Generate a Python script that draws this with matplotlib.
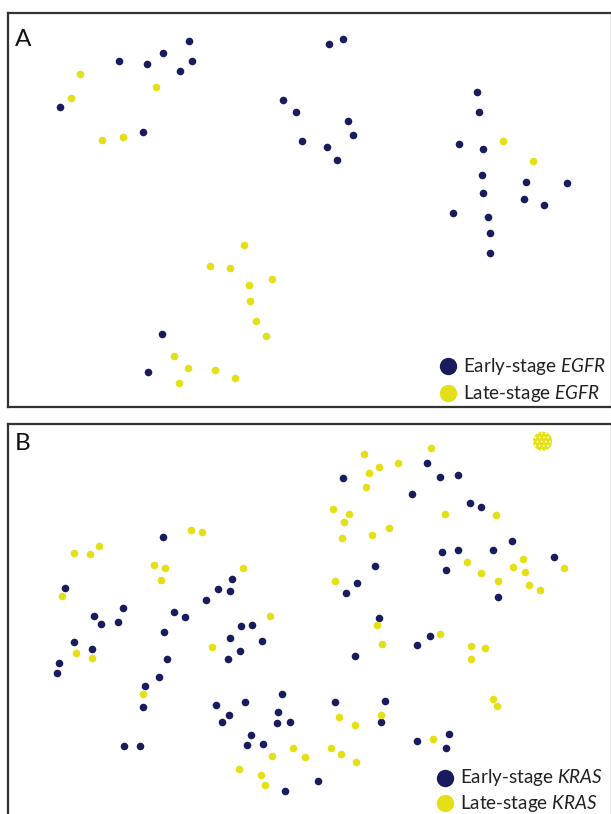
import matplotlib
matplotlib.use("Agg")
import matplotlib.pyplot as plt

# ---- Panel A data (t-SNE-like embedding, picture coordinates) ----
egfr_early_x = [189.0, 118.9, 146.5, 163.3, 180.4, 191.7, 59.6, 142.6, 328.5, 343.3,
                282.5, 296.2, 347.6, 352.7, 302.0, 327.4, 337.1, 477.0, 478.6, 458.7,
                482.5, 482.1, 482.5, 526.1, 567.0, 523.8, 544.0, 452.8, 487.9, 489.9,
                489.9, 161.7, 147.7]
egfr_early_y = [40.7, 61.0, 64.3, 53.3, 71.3, 61.0, 107.0, 132.0, 44.3, 39.3,
                99.7, 112.3, 120.7, 135.0, 141.0, 146.7, 159.7, 92.3, 111.7, 144.3,
                148.7, 174.7, 193.3, 182.0, 183.3, 199.3, 205.0, 213.3, 217.0, 232.7,
                252.7, 334.3, 372.0]
egfr_late_x = [79.5, 70.9, 155.5, 102.1, 123.1, 503.1, 533.1, 243.6, 209.7, 230.3,
               271.6, 249.0, 249.8, 256.4, 266.2, 173.8, 187.8, 214.7, 235.4, 178.5]
egfr_late_y = [74.3, 97.7, 87.3, 140.0, 137.0, 140.7, 160.7, 245.0, 265.7, 268.0,
               279.0, 285.0, 300.7, 320.7, 335.7, 356.0, 368.0, 370.3, 377.7, 382.7]

# ---- Panel B data ----
kras_early_x = [342.6, 426.7, 440.0, 458.3, 412.3, 469.6, 480.9, 163.3, 441.9, 457.5,
                492.6, 511.7, 553.8, 445.8, 374.5, 357.0, 345.7, 498.1, 64.7, 232.3,
                218.2, 229.9, 206.2, 122.8, 93.9, 101.3, 117.7, 173.8, 184.7, 164.1,
                240.5, 252.1, 229.9, 261.5, 240.1, 228.0, 379.2, 429.5, 416.6, 354.6,
                73.7, 91.6, 59.2, 56.9, 166.8, 159.0, 145.0, 143.0, 282.2, 215.9,
                244.7, 277.9, 228.8, 221.7, 276.7, 289.6, 334.8, 384.6, 380.7, 251.0,
                247.1, 263.4, 124.3, 139.5, 449.3, 417.0, 445.8, 318.4, 285.3]
kras_early_y = [477.7, 463.0, 477.3, 474.7, 494.3, 503.3, 506.7, 537.0, 551.7, 550.0,
                550.0, 540.7, 557.3, 570.3, 565.7, 582.7, 592.7, 597.0, 588.3, 579.0,
                589.3, 591.3, 599.7, 608.0, 616.3, 624.0, 622.3, 611.7, 616.7, 632.0,
                626.0, 625.0, 638.0, 641.0, 651.0, 659.0, 618.3, 636.0, 645.0, 655.7,
                642.3, 648.7, 663.0, 672.7, 659.0, 676.7, 686.3, 707.0, 694.3, 705.0,
                702.3, 711.7, 714.7, 722.0, 723.0, 722.0, 702.0, 700.7, 721.7, 735.3,
                745.3, 744.0, 746.0, 746.3, 734.0, 741.3, 747.7, 781.0, 791.0]
kras_late_x = [364.0, 431.0, 378.8, 397.9, 369.4, 365.5, 332.8, 349.2, 343.7, 444.7,
               496.1, 388.9, 371.8, 341.8, 191.0, 202.3, 74.4, 90.4, 99.0, 153.9,
               164.8, 161.0, 243.2, 62.0, 335.2, 467.3, 481.3, 498.1, 512.5, 522.6,
               524.9, 528.8, 539.8, 563.9, 270.1, 376.9, 212.4, 382.3, 440.4, 470.8,
               485.2, 470.8, 76.4, 92.0, 142.6, 493.4, 496.5, 338.7, 354.6, 380.7,
               292.7, 305.1, 330.5, 341.4, 356.2, 272.0, 433.4, 238.9, 260.7, 264.6]
kras_late_y = [454.3, 447.7, 467.3, 463.3, 473.0, 486.7, 508.7, 514.0, 521.7, 514.0,
               514.7, 528.3, 534.7, 538.3, 530.3, 531.7, 552.7, 554.0, 546.3, 565.0,
               568.3, 580.0, 568.3, 596.0, 580.7, 562.3, 573.3, 581.0, 566.7, 558.7,
               572.3, 584.7, 589.7, 568.3, 616.3, 625.0, 647.0, 644.3, 634.3, 646.0,
               648.0, 659.3, 652.7, 657.7, 693.7, 698.7, 705.7, 716.7, 725.3, 714.7,
               747.7, 757.0, 748.3, 754.3, 761.7, 756.3, 739.0, 769.0, 775.0, 784.7]
kras_blob_x = [542.5]
kras_blob_y = [441.3]

panel_labels = ["A", "B"]
legend_a = ["Early-stage $\\it{EGFR}$", "Late-stage $\\it{EGFR}$"]
legend_b = ["Early-stage $\\it{KRAS}$", "Late-stage $\\it{KRAS}$"]

NAVY = "#181c5c"
YELLOW = "#e4df16"
W, H = 611, 814

plt.rcParams['font.family'] = ['Lato', 'DejaVu Sans']
plt.rcParams['mathtext.fontset'] = 'custom'
plt.rcParams['mathtext.rm'] = 'Lato'
plt.rcParams['mathtext.it'] = 'Lato:italic'

fig = plt.figure(figsize=(W / 100, H / 100), dpi=100)


def make_axes(x0, y0, x1, y1):
    # pixel box -> figure fraction
    ax = fig.add_axes([x0 / W, 1 - y1 / H, (x1 - x0) / W, (y1 - y0) / H])
    ax.set_xlim(x0, x1)
    ax.set_ylim(y1, y0)
    ax.set_xticks([])
    ax.set_yticks([])
    for s in ax.spines.values():
        s.set_color("#333333")
        s.set_linewidth(1.6)
    return ax


axA = make_axes(8, 13, 612, 407)
axB = make_axes(8, 424, 612, 830)

dot_s = 30
axA.scatter(egfr_early_x, egfr_early_y, s=dot_s, color=NAVY, linewidths=0)
axA.scatter(egfr_late_x, egfr_late_y, s=dot_s, color=YELLOW, linewidths=0)
axB.scatter(kras_early_x, kras_early_y, s=dot_s, color=NAVY, linewidths=0)
axB.scatter(kras_late_x, kras_late_y, s=dot_s, color=YELLOW, linewidths=0)
plt.rcParams['hatch.linewidth'] = 0.8
axB.scatter(kras_blob_x, kras_blob_y, s=190, facecolor=YELLOW, edgecolor="white",
            hatch="....", linewidths=0)

axA.text(15, 39, panel_labels[0], fontsize=17.5, va="center", ha="left", color="#111111")
axB.text(15, 443, panel_labels[1], fontsize=17.5, va="center", ha="left", color="#111111")


def add_legend(ax, labels, y0, y1, xdot):
    ax.plot([xdot], [y0], "o", ms=12.5, color=NAVY, mec="none")
    ax.plot([xdot], [y1], "o", ms=12.5, color=YELLOW, mec="none")
    ax.text(xdot + 15, y0, labels[0], fontsize=13.6, va="center", ha="left", color="#222222")
    ax.text(xdot + 15, y1, labels[1], fontsize=13.6, va="center", ha="left", color="#222222")


add_legend(axA, legend_a, 366.5, 393.3, 448.2)
add_legend(axB, legend_b, 777.7, 803.3, 445.4)

fig.savefig("out.png", dpi=100, facecolor="white")
